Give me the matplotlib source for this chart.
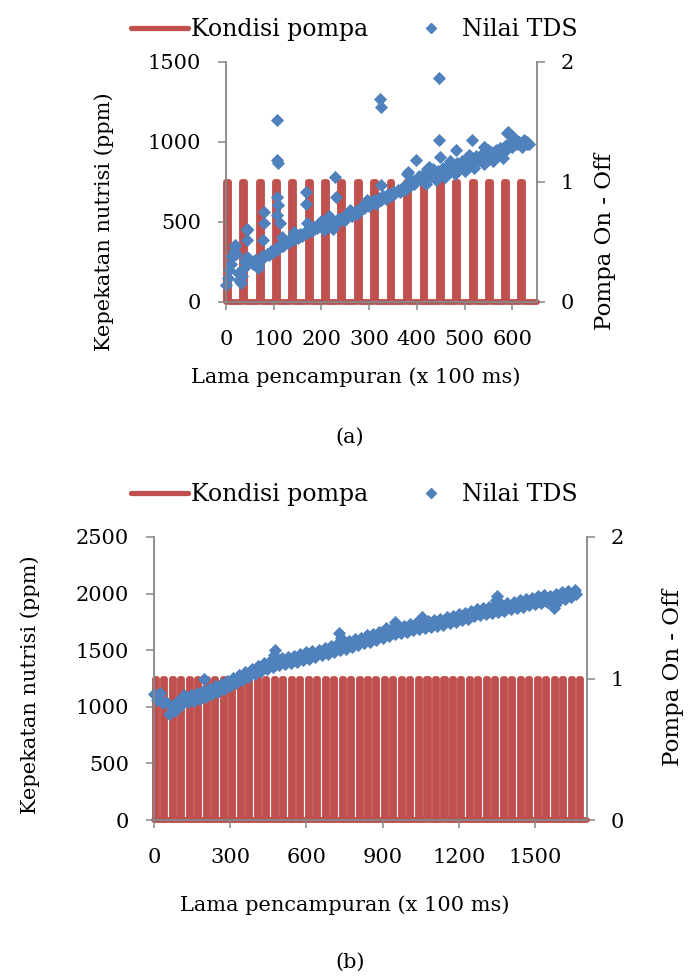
import matplotlib
matplotlib.use("Agg")
import matplotlib.pyplot as plt
from matplotlib.lines import Line2D

plt.rcParams['font.family'] = ['DejaVu Serif']
plt.rcParams['font.size'] = 15

RED = '#C0504D'
BLUE = '#4F81BD'
GRAY = '#868686'

# ---- panel (a) data ----
pump_a_on = [0, 34, 69, 103, 137, 172, 206, 240, 274, 309,
             343, 377, 412, 446, 480, 515, 549, 583, 617]

tds_a_x = [0, 4, 7, 10, 13, 16, 19, 22, 25, 28,
           31, 34, 37, 40, 44, 48, 52, 56, 60, 64,
           68, 72, 76, 80, 85, 90, 95, 100, 105, 110,
           115, 120, 125, 130, 135, 140, 145, 150, 155, 160,
           165, 170, 175, 180, 185, 190, 195, 200, 205, 210,
           215, 220, 225, 230, 235, 240, 245, 250, 255, 260,
           265, 270, 275, 280, 285, 290, 295, 300, 305, 310,
           315, 320, 325, 330, 335, 340, 345, 350, 355, 360,
           365, 370, 375, 380, 385, 390, 395, 400, 405, 410,
           415, 420, 425, 430, 435, 440, 445, 450, 455, 460,
           465, 470, 475, 480, 485, 490, 495, 500, 505, 510,
           515, 520, 525, 530, 535, 540, 545, 550, 555, 560,
           565, 570, 575, 580, 585, 590, 595, 600, 605, 610,
           615, 620, 625, 630, 635]
tds_a_y = [105, 150, 200, 240, 285, 320, 350, 300, 180, 140,
           120, 160, 210, 250, 280, 270, 255, 240, 265, 250,
           230, 270, 290, 285, 300, 295, 320, 310, 340, 330,
           360, 350, 380, 370, 395, 385, 410, 400, 425, 410,
           440, 430, 455, 445, 470, 460, 490, 505, 480, 500,
           470, 510, 490, 500, 520, 505, 530, 515, 545, 560,
           540, 565, 550, 580, 600, 585, 610, 600, 625, 640,
           615, 650, 635, 660, 645, 675, 665, 690, 680, 700,
           690, 715, 700, 740, 725, 755, 740, 770, 790, 765,
           800, 780, 815, 790, 830, 800, 820, 790, 840, 815,
           850, 830, 860, 840, 870, 850, 880, 860, 885, 870,
           900, 880, 910, 885, 920, 895, 930, 905, 940, 915,
           950, 925, 960, 940, 975, 955, 1000, 970, 1020, 985,
           1000, 970, 1010, 990, 985]

# scattered readings away from the main trend
tds_a_out_x = [106, 107, 109, 106, 110, 106, 113, 117, 43, 44,
               44, 78, 80, 80, 79, 68, 19, 12, 40, 143,
               168, 168, 170, 229, 231, 260, 295, 322, 324, 325,
               351, 381, 399, 422, 425, 446, 447, 449, 483, 516,
               544, 592, 621, 632, 380, 541, 590, 205, 215, 225,
               420, 440, 460, 480, 500, 520, 540, 560, 580, 470,
               510, 550, 600]
tds_a_out_y = [1138, 888, 871, 658, 606, 544, 492, 408, 450, 387,
               454, 387, 496, 565, 283, 210, 356, 283, 262, 440,
               690, 612, 492, 783, 658, 575, 637, 1267, 1221, 731,
               679, 815, 887, 829, 846, 1398, 1012, 908, 950, 1012,
               960, 1065, 992, 1002, 802, 971, 1054, 450, 540, 455,
               740, 760, 780, 800, 820, 840, 860, 880, 900, 880,
               920, 950, 1040]

# ---- panel (b) data ----
pump_b_on = [4, 37, 71, 104, 138, 171, 204, 238, 271, 305,
             338, 371, 405, 438, 472, 505, 538, 572, 605, 639,
             672, 705, 739, 772, 806, 839, 872, 906, 939, 973,
             1006, 1039, 1073, 1106, 1140, 1173, 1206, 1240, 1273, 1307,
             1340, 1373, 1407, 1440, 1474, 1507, 1540, 1574, 1607, 1641,
             1674]

tds_b_x = [0, 12, 24, 36, 48, 60, 72, 84, 96, 108,
           120, 132, 144, 156, 168, 180, 192, 204, 216, 228,
           240, 252, 264, 276, 288, 300, 312, 324, 336, 348,
           360, 372, 384, 396, 408, 420, 432, 444, 456, 468,
           480, 492, 504, 516, 528, 540, 552, 564, 576, 588,
           600, 612, 624, 636, 648, 660, 672, 684, 696, 708,
           720, 732, 744, 756, 768, 780, 792, 804, 816, 828,
           840, 852, 864, 876, 888, 900, 912, 924, 936, 948,
           960, 972, 984, 996, 1008, 1020, 1032, 1044, 1056, 1068,
           1080, 1092, 1104, 1116, 1128, 1140, 1152, 1164, 1176, 1188,
           1200, 1212, 1224, 1236, 1248, 1260, 1272, 1284, 1296, 1308,
           1320, 1332, 1344, 1356, 1368, 1380, 1392, 1404, 1416, 1428,
           1440, 1452, 1464, 1476, 1488, 1500, 1512, 1524, 1536, 1548,
           1560, 1572, 1584, 1596, 1608, 1620, 1632, 1644, 1656]
tds_b_y = [1110, 1060, 1125, 1030, 1040, 940, 1005, 965, 1050, 1015,
           1100, 1045, 1100, 1050, 1120, 1070, 1140, 1090, 1160, 1115,
           1185, 1135, 1205, 1160, 1230, 1185, 1255, 1210, 1285, 1235,
           1310, 1260, 1335, 1290, 1360, 1315, 1385, 1335, 1405, 1355,
           1420, 1365, 1430, 1375, 1440, 1385, 1450, 1395, 1465, 1410,
           1480, 1425, 1495, 1440, 1505, 1455, 1520, 1470, 1535, 1485,
           1555, 1500, 1570, 1515, 1585, 1530, 1600, 1545, 1610, 1560,
           1630, 1575, 1645, 1590, 1660, 1610, 1680, 1625, 1695, 1640,
           1705, 1650, 1715, 1660, 1730, 1675, 1740, 1685, 1750, 1695,
           1760, 1705, 1770, 1715, 1780, 1725, 1790, 1740, 1805, 1750,
           1820, 1765, 1830, 1780, 1850, 1800, 1865, 1810, 1875, 1820,
           1885, 1830, 1895, 1840, 1905, 1850, 1920, 1865, 1930, 1875,
           1940, 1885, 1950, 1900, 1965, 1910, 1975, 1920, 1985, 1925,
           1980, 1925, 1995, 1945, 2010, 1955, 2020, 1970, 2030]

tds_b_out_x = [195, 478, 472, 728, 735, 912, 951, 1057, 1063, 1350,
               1345, 1576, 1580, 1660]
tds_b_out_y = [1245, 1505, 1460, 1650, 1610, 1700, 1750, 1790, 1760, 1975,
               1940, 1870, 1900, 2000]


def pump_line(on_times, width, xend):
    xs, ys = [0], [0]
    for t in on_times:
        xs += [t, t, t + width, t + width]
        ys += [0, 1, 1, 0]
    xs.append(xend)
    ys.append(0)
    return xs, ys


def draw_panel(rect, pump_on, pulse_w, xs_list, ys_list, xmax, ymax,
               xticks, yticks, label_pos, legend_y):
    ax = fig.add_axes(rect)
    ax2 = ax.twinx()
    # pump line sits behind the TDS markers
    ax2.set_zorder(ax.get_zorder() - 1)
    ax.patch.set_visible(False)

    px, py = pump_line(pump_on, pulse_w, xmax)
    ax2.plot(px, py, color=RED, lw=4.2, solid_joinstyle='round',
             solid_capstyle='round', clip_on=False)
    for xs, ys in zip(xs_list, ys_list):
        ax.plot(xs, ys, ls='none', marker='D', ms=6.5, mfc=BLUE, mec=BLUE,
                mew=0.6, clip_on=False)

    ax.set_xlim(0, xmax)
    ax.set_ylim(0, ymax)
    ax2.set_ylim(0, 2)
    ax.set_xticks(xticks)
    ax.set_yticks(yticks)
    ax2.set_yticks([0, 1, 2])

    for a in (ax, ax2):
        a.spines['top'].set_visible(False)
        for s in a.spines.values():
            s.set_color(GRAY)
            s.set_linewidth(1.3)
    ax.spines['right'].set_visible(False)
    ax2.spines['left'].set_visible(False)
    ax.tick_params(axis='y', direction='out', length=6, width=1.1,
                   color=GRAY, pad=12)
    ax.tick_params(axis='x', direction='out', length=6, width=1.1,
                   color=GRAY, pad=14)
    ax2.tick_params(axis='y', direction='out', length=6, width=1.1,
                    color=GRAY, pad=11)

    xl, yl, rl = label_pos
    ax.set_xlabel('Lama pencampuran (x 100 ms)')
    ax.xaxis.set_label_coords(*xl)
    ax.set_ylabel('Kepekatan nutrisi (ppm)')
    ax.yaxis.set_label_coords(*yl)
    ax2.set_ylabel('Pompa On - Off', rotation=90, fontsize=16.5)
    ax2.yaxis.set_label_coords(*rl)
    for lab in (ax.xaxis.label, ax.yaxis.label, ax2.yaxis.label):
        lab.set_verticalalignment('center')

    handles = [Line2D([], [], color=RED, lw=3.8, solid_capstyle='round'),
               Line2D([], [], ls='none', marker='D', ms=5, mfc=BLUE, mec=BLUE)]
    fig.legend(handles, ['Kondisi pompa', 'Nilai TDS'], loc='center',
               bbox_to_anchor=(0.5145, legend_y), ncol=2, frameon=False,
               fontsize=17, handlelength=2.4, handletextpad=0.13,
               columnspacing=1.45, borderaxespad=0, borderpad=0)
    return ax


fig = plt.figure(figsize=(6.89, 9.76), dpi=100)

draw_panel([0.328, 0.6906, 0.4514, 0.2459], pump_a_on, 6,
           [tds_a_x, tds_a_out_x], [tds_a_y, tds_a_out_y], 652, 1500,
           [0, 100, 200, 300, 400, 500, 600], [0, 500, 1000, 1500],
           ((0.418, -0.3125), (-0.392, 0.333), (1.219, 0.25)), 0.970)

draw_panel([0.2235, 0.1598, 0.6284, 0.29], pump_b_on, 8,
           [tds_b_x, tds_b_out_x], [tds_b_y, tds_b_out_y], 1705, 2500,
           [0, 300, 600, 900, 1200, 1500], [0, 500, 1000, 1500, 2000, 2500],
           ((0.441, -0.300), (-0.286, 0.477), (1.198, 0.502)), 0.493)

fig.text(0.508, 1 - 437 / 976, '(a)', ha='center', va='center')
fig.text(0.508, 1 - 962 / 976, '(b)', ha='center', va='center')

fig.savefig('out.png', dpi=100)
